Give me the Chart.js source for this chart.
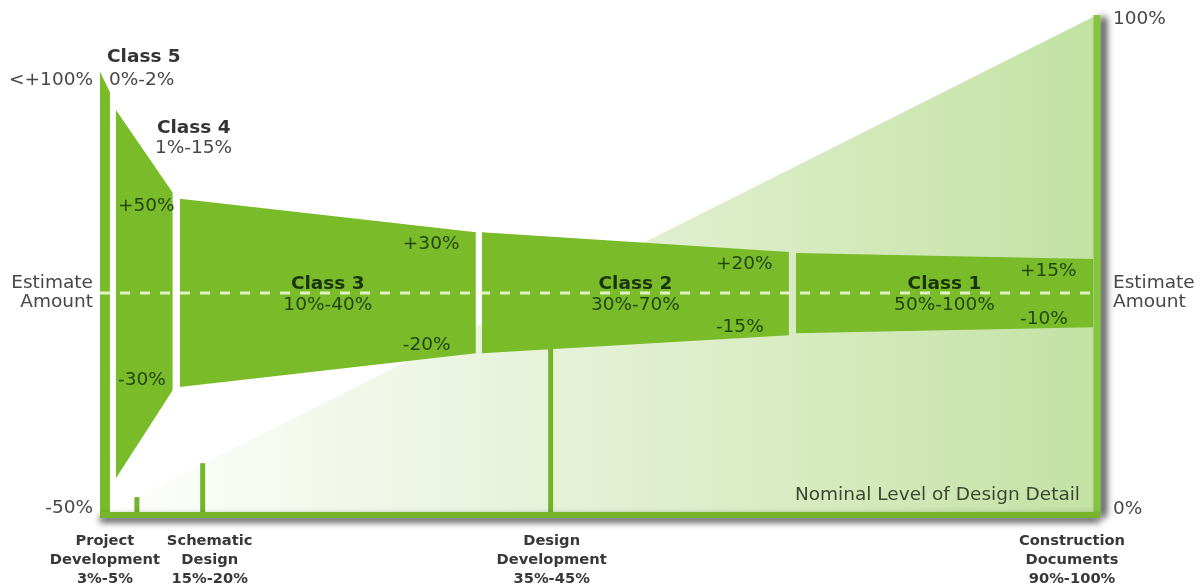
<!DOCTYPE html>
<html>
<head>
<meta charset="utf-8">
<title>Estimate Classes vs Design Detail</title>
<script src="https://cdn.jsdelivr.net/npm/chart.js@4.4.1/dist/chart.umd.min.js"></script>
<style>
  html, body { margin: 0; padding: 0; background: #fff; }
</style>
</head>
<body>
<canvas id="chart" width="1203" height="587"></canvas>
<script>
// x = level of design detail (0-100), y = chart height (0-100)
const classNames = ["Class 5", "Class 4", "Class 3", "Class 2", "Class 1"];
const classRanges = ["0%-2%", "1%-15%", "10%-40%", "30%-70%", "50%-100%"];
const upperLabels = ["<+100%", "+50%", "+30%", "+20%", "+15%"];
const lowerLabels = ["-50%", "-30%", "-20%", "-15%", "-10%"];

// band of each class: start / end on x, top and bottom edge at start and end
const bandStart = [0, 1.6, 8.0, 38.3, 69.8];
const bandEnd = [1.0, 7.3, 37.7, 69.1, 99.6];
const bandTop = [[88.6, 84.5], [80.9, 64.3], [63.1, 56.4], [56.4, 52.4], [52.2, 51.0]];
const bandBottom = [[0, 0], [7.0, 24.7], [25.3, 32.1], [32.1, 35.7], [36.1, 37.3]];

const phaseNames = [["Project", "Development"], ["Schematic", "Design"], ["Design", "Development"], ["Construction", "Documents"]];
const phaseRanges = ["3%-5%", "15%-20%", "35%-45%", "90%-100%"];
const phaseX = [3.7, 10.3, 45.2, 100];
const phaseHeight = [3.2, 10.0, 34, 100];

const detailLine = [[0.5, 0], [100, 100]];
const detailTicks = ["0%", "100%"];
const estimateLevel = 44.2;

const GREEN = "#79bb29";

const datasets = [];

// dashed estimate amount line
datasets.push({
  data: [{ x: 0, y: estimateLevel }, { x: 100, y: estimateLevel }],
  borderColor: "rgba(236,250,214,0.9)",
  borderWidth: 3,
  borderDash: [10, 10],
  fill: false,
  order: 0
});

// bottom axis and right bar
datasets.push({
  data: [{ x: 0, y: -0.4 }, { x: 100.3, y: -0.4 }],
  borderColor: "#76b52b",
  borderWidth: 6,
  fill: false,
  clip: false,
  order: 1,
  shadow: [0, 4]
});
datasets.push({
  data: [{ x: 100, y: -0.4 }, { x: 100, y: 100 }],
  borderColor: "#84c540",
  borderWidth: 7,
  fill: false,
  clip: false,
  order: 1,
  shadow: [6, 2]
});

// class bands, upper edge filled down to lower edge
classNames.forEach((name, i) => {
  datasets.push({
    label: name,
    data: [{ x: bandStart[i], y: bandTop[i][0] }, { x: bandEnd[i], y: bandTop[i][1] }],
    borderWidth: 0,
    backgroundColor: GREEN,
    fill: "+1",
    order: 2
  });
  datasets.push({
    data: [{ x: bandStart[i], y: bandBottom[i][0] }, { x: bandEnd[i], y: bandBottom[i][1] }],
    borderWidth: 0,
    fill: false,
    order: 2
  });
});

// phase markers
phaseX.slice(0, 3).forEach((px, i) => {
  datasets.push({
    data: [{ x: px, y: 0 }, { x: px, y: phaseHeight[i] }],
    borderColor: "#74b42a",
    borderWidth: 5,
    fill: false,
    order: 3
  });
});

// level of design detail triangle
datasets.push({
  data: detailLine.map(p => ({ x: p[0], y: p[1] })),
  borderWidth: 0,
  fill: "start",
  order: 5,
  backgroundColor: (c) => {
    const area = c.chart.chartArea;
    if (!area) return "#dcedc8";
    const g = c.chart.ctx.createLinearGradient(area.left, 0, area.right, 0);
    g.addColorStop(0, "#ffffff");
    g.addColorStop(0.3, "#eff6e6");
    g.addColorStop(0.65, "#dbecc6");
    g.addColorStop(1, "#c2e2a3");
    return g;
  }
});

const shadowPlugin = {
  id: "shadow",
  beforeDatasetDraw(chart, args) {
    const ds = chart.data.datasets[args.index];
    if (!ds.shadow) return;
    const ctx = chart.ctx;
    ctx.save();
    ctx.shadowColor = "rgba(20,20,20,0.85)";
    ctx.shadowBlur = 7;
    ctx.shadowOffsetX = ds.shadow[0];
    ctx.shadowOffsetY = ds.shadow[1];
  },
  afterDatasetDraw(chart, args) {
    const ds = chart.data.datasets[args.index];
    if (ds.shadow) chart.ctx.restore();
  }
};

const labelPlugin = {
  id: "labels",
  afterDatasetsDraw(chart) {
    const { ctx, scales } = chart;
    const px = v => scales.x.getPixelForValue(v);
    const py = v => scales.y.getPixelForValue(v);
    const put = (s, X, Y, font, color, align) => {
      ctx.font = font;
      ctx.fillStyle = color;
      ctx.textAlign = align || "left";
      ctx.fillText(s, X, Y);
    };
    const reg = '18.5px "DejaVu Sans", Verdana, sans-serif';
    const bold = 'bold 18.5px "DejaVu Sans", Verdana, sans-serif';
    const grey = "#474747";
    const dark = "#1a330b";
    const inner = "#25450e";
    ctx.save();
    ctx.textBaseline = "middle";

    // class 5 and class 4 sit above their bands
    put(classNames[0], px(bandStart[0]) + 7, py(bandTop[0][0]) - 15, bold, "#333", "left");
    put(classRanges[0], px(bandStart[0]) + 9, py(bandTop[0][0]) + 8, reg, grey, "left");
    put(classNames[1], px(bandStart[1]) + 41, py(bandTop[1][0]) + 18, bold, "#333", "left");
    put(classRanges[1], px(bandStart[1]) + 39, py(bandTop[1][0]) + 38, reg, grey, "left");

    // outer left labels
    put(upperLabels[0], 93, py(bandTop[0][0]) + 8, reg, grey, "right");
    put(lowerLabels[0], 93, py(0) - 5, reg, grey, "right");
    put("Estimate", 93, py(estimateLevel) - 10, reg, grey, "right");
    put("Amount", 93, py(estimateLevel) + 9, reg, grey, "right");

    // class 4 tolerances
    put(upperLabels[1], px(bandStart[1]) + 2, py(bandTop[1][1]) + 13, reg, inner, "left");
    put(lowerLabels[1], px(bandStart[1]) + 2, py(bandBottom[1][1]) - 10, reg, inner, "left");

    // class 3..1
    for (let i = 2; i < 5; i++) {
      const mid = px((bandStart[i] + bandEnd[i]) / 2);
      put(classNames[i], mid, py(estimateLevel) - 9, bold, dark, "center");
      put(classRanges[i], mid, py(estimateLevel) + 12, reg, inner, "center");
      put(upperLabels[i], px(bandEnd[i]) - 73, py(bandTop[i][1]) + 12, reg, inner, "left");
      put(lowerLabels[i], px(bandEnd[i]) - 73, py(bandBottom[i][1]) - 8, reg, inner, "left");
    }

    // right side
    put("Estimate", 1113, py(estimateLevel) - 10, reg, grey, "left");
    put("Amount", 1113, py(estimateLevel) + 9, reg, grey, "left");
    put(detailTicks[1], 1113, py(100) + 4, reg, grey, "left");
    put(detailTicks[0], 1113, py(0) - 4, reg, grey, "left");
    put("Nominal Level of Design Detail", 1080, py(0) - 18, reg, "#3b4731", "right");

    // phase labels below the axis
    const shift = [-32, 7, 1, -25];
    const pf = 'bold 14.7px "DejaVu Sans", Verdana, sans-serif';
    phaseNames.forEach((lines, i) => {
      const cx = px(phaseX[i]) + shift[i];
      put(lines[0], cx, 541, pf, "#383838", "center");
      put(lines[1], cx, 560, pf, "#383838", "center");
      put(phaseRanges[i], cx, 579, pf, "#383838", "center");
    });
    ctx.restore();
  }
};

new Chart(document.getElementById("chart"), {
  type: "line",
  data: { datasets },
  options: {
    responsive: false,
    animation: false,
    layout: { padding: { left: 100, right: 106, top: 15, bottom: 74 } },
    elements: { point: { radius: 0 }, line: { tension: 0 } },
    scales: {
      x: { type: "linear", min: 0, max: 100, display: false },
      y: { type: "linear", min: 0, max: 100, display: false }
    },
    plugins: {
      legend: { display: false },
      tooltip: { enabled: false }
    }
  },
  plugins: [shadowPlugin, labelPlugin]
});
</script>
</body>
</html>
